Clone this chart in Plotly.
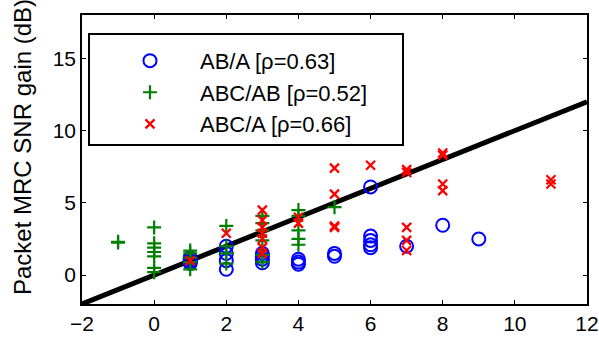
import plotly.graph_objects as go

# AB/A (blue circles)
ab_a_x = [1, 1, 1, 1, 1, 2, 2, 2, 2, 3, 3, 3, 3, 4, 4, 4, 5, 5, 6, 6, 6, 6, 6, 7, 8, 9]
ab_a_y = [0.8, 0.9, 1.0, 1.1, 1.2, 2.0, 1.5, 1.0, 0.4, 1.5, 1.3, 1.1, 0.85, 1.1, 0.9, 0.75,
          1.5, 1.3, 6.1, 2.7, 2.4, 2.1, 1.9, 2.0, 3.45, 2.5]

# ABC/AB (green plus)
abc_ab_x = [-1, -1, 0, 0, 0, 0, 0, 0, 0, 1, 1, 1, 1, 1, 2, 2, 2, 2,
            3, 3, 3, 3, 3, 3, 4, 4, 4, 4, 4, 5]
abc_ab_y = [2.3, 2.25, 3.3, 2.2, 1.9, 1.6, 1.3, 0.5, 0.2, 1.7, 1.5, 1.2, 0.9, 0.4,
            3.4, 2.0, 1.5, 0.8, 4.1, 3.6, 3.1, 2.4, 1.4, 0.9, 4.5, 4.1, 3.1, 2.5, 2.1, 4.7]

# ABC/A (red x)
abc_a_x = [1, 2, 3, 3, 3, 3, 3, 3, 3, 4, 4, 5, 5, 5, 5, 6, 7, 7, 7, 7, 7,
           8, 8, 8, 8, 11, 11]
abc_a_y = [1.0, 2.9, 4.5, 3.8, 3.3, 2.9, 2.5, 1.9, 1.5, 4.0, 3.6, 7.4, 5.6, 3.4, 3.3, 7.6,
           7.3, 7.1, 3.3, 2.4, 1.7, 8.45, 8.3, 6.3, 5.85, 6.6, 6.3]

# reference line y = x
ref_x = [-2, 12]
ref_y = [-2, 12]

labels = ["AB/A [ρ=0.63]", "ABC/AB [ρ=0.52]", "ABC/A [ρ=0.66]"]
y_title = "Packet MRC SNR gain (dB)"

x_ticks = [-2, 0, 2, 4, 6, 8, 10, 12]
y_ticks = [0, 5, 10, 15]

FONT = "Liberation Sans, Arial, Helvetica, sans-serif"

fig = go.Figure()
fig.add_trace(go.Scatter(x=ref_x, y=ref_y, mode="lines",
                         line=dict(color="black", width=5), showlegend=False,
                         hoverinfo="skip"))
fig.add_trace(go.Scatter(x=ab_a_x, y=ab_a_y, mode="markers", name=labels[0],
                         marker=dict(symbol="circle-open", size=13, color="#0000ff",
                                     line=dict(width=2, color="#0000ff"))))
fig.add_trace(go.Scatter(x=abc_ab_x, y=abc_ab_y, mode="markers", name=labels[1],
                         marker=dict(symbol="cross-thin-open", size=10, color="#008000",
                                     line=dict(width=2.2, color="#008000"))))
fig.add_trace(go.Scatter(x=abc_a_x, y=abc_a_y, mode="markers", name=labels[2],
                         marker=dict(symbol="x-thin-open", size=9, color="#ff0000",
                                     line=dict(width=2.3, color="#ff0000"))))

axis_common = dict(showline=True, linecolor="black", linewidth=1.5, mirror="allticks",
                   ticks="inside", ticklen=4, tickwidth=1, tickcolor="black",
                   showgrid=False, zeroline=False, automargin=False,
                   tickfont=dict(family=FONT, size=21, color="black"))

fig.update_layout(
    width=599, height=337, autosize=False,
    margin=dict(l=82, r=12, t=15, b=33, pad=0),
    paper_bgcolor="white", plot_bgcolor="white",
    font=dict(family=FONT, size=21, color="black"),
    xaxis=dict(range=[-2, 12], tickvals=x_ticks, **axis_common),
    yaxis=dict(range=[-2, 18], tickvals=y_ticks, **axis_common),
    legend=dict(x=0.0356, y=0.914, xanchor="left", yanchor="top",
                bgcolor="rgba(0,0,0,0)", borderwidth=0,
                font=dict(family=FONT, size=22, color="black"),
                itemwidth=90, traceorder="normal"),
    annotations=[dict(text=y_title, textangle=-90, xref="paper", yref="paper",
                      x=-(82 - 22) / 505, y=(304 - 147) / 289,
                      xanchor="center", yanchor="middle", showarrow=False,
                      font=dict(family=FONT, size=24, color="black"))],
    shapes=[dict(type="rect", xref="paper", yref="paper",
                 x0=(89 - 82) / 505, x1=(403 - 82) / 505,
                 y0=(304 - 145) / 289, y1=(304 - 34) / 289,
                 line=dict(color="black", width=2), fillcolor="rgba(0,0,0,0)",
                 layer="above")],
)

fig.write_html("out.html")
